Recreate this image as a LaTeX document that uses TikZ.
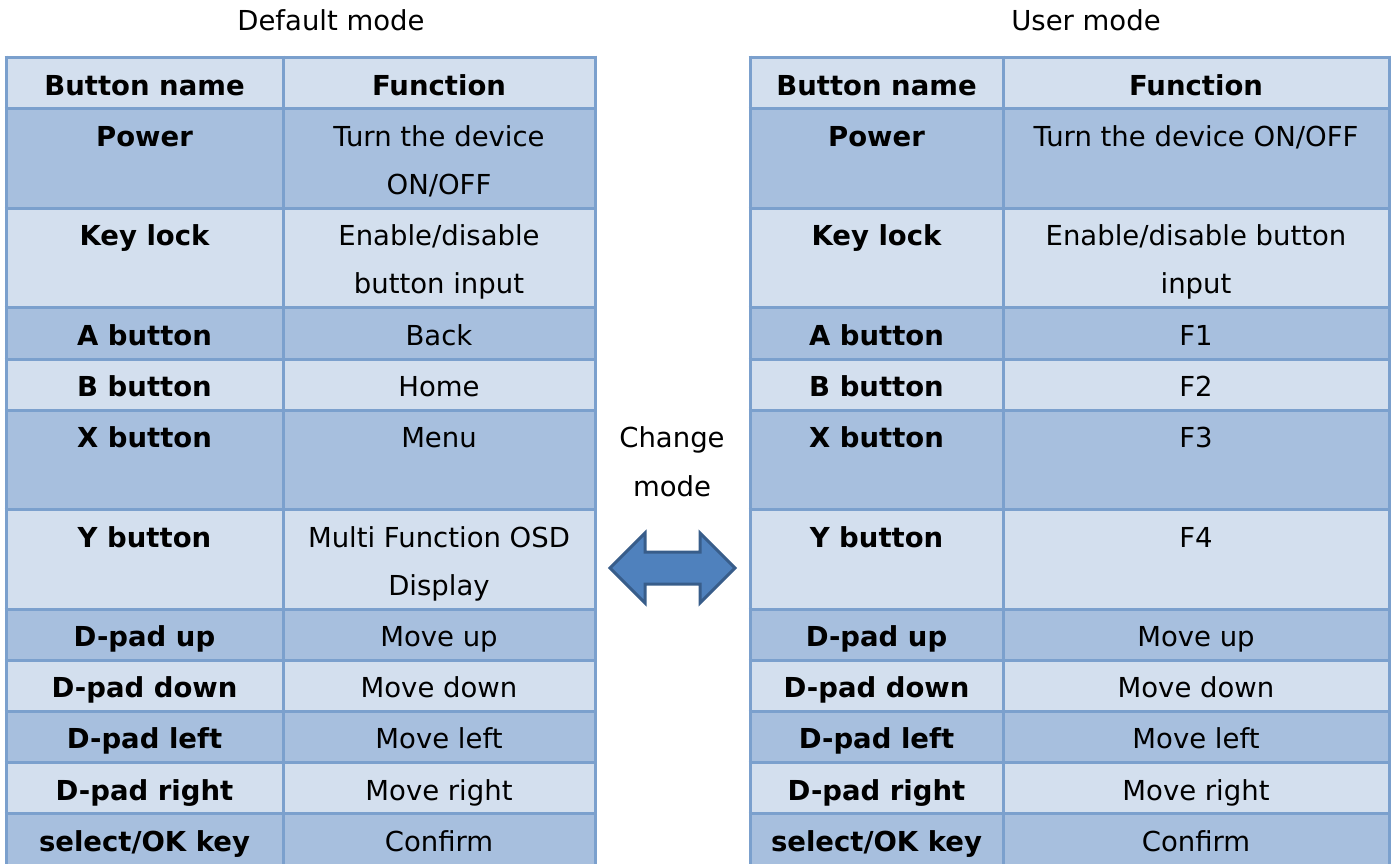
\documentclass[tikz,border=0pt]{standalone}
\usepackage{fontspec}
\setmainfont{DejaVu Sans}
\definecolor{gridline}{HTML}{7BA0CD}
\definecolor{rowlight}{HTML}{D3DFEE}
\definecolor{rowdark}{HTML}{A7BFDE}
\definecolor{arrowfill}{HTML}{4F81BD}
\definecolor{arrowedge}{HTML}{385D8A}
\tikzset{
  cell/.style={anchor=base, align=center, inner sep=0pt,
    font=\fontsize{27.5}{48.3}\selectfont},
  namecell/.style={cell, font=\fontsize{27.5}{48.3}\selectfont\bfseries},
  title/.style={anchor=base, inner sep=0pt, font=\fontsize{27.5}{49.5}\selectfont, align=center},
  rule/.style={draw=gridline, line width=3pt},
  swaparrow/.style={fill=arrowfill, draw=arrowedge, line width=3pt, line join=miter},
}
\begin{document}
\begin{tikzpicture}[x=1pt, y=-1pt]
\useasboundingbox (0,0) rectangle (1395,863);
\clip (0,0) rectangle (1395,863);

% row fills and horizontal rules of both tables
\foreach \xl/\xr in {6/595, 750/1389} {
  \foreach \ya/\yb/\c in {57/108/rowlight, 108/208/rowdark, 208/307/rowlight,
      307/359/rowdark, 359/410/rowlight, 410/509/rowdark, 509/609/rowlight,
      609/660/rowdark, 660/711/rowlight, 711/762/rowdark, 762/813/rowlight,
      813/890/rowdark} {
    \fill[\c] (\xl,\ya) rectangle (\xr,\yb);
  }
  \foreach \ya in {57,108,208,307,359,410,509,609,660,711,762,813} {
    \draw[rule] (\xl-1.5,\ya) -- (\xr+1.5,\ya);
  }
}
% vertical rules
\foreach \x in {6,283,595,750,1003,1389} {
  \draw[rule] (\x,55.5) -- (\x,890);
}

% titles
\node[title] (tdef) at (331,30) {Default mode};
\node[title] (tusr) at (1086,30) {User mode};

% default mode table (two-line cells are anchored at their last baseline)
\node[namecell] (dh1) at (144.5,95.5) {Button name};
\node[namecell] (dh2) at (439,95.5) {Function};
\node[namecell] (dn1) at (144.5,146.5) {Power};
\node[cell] (df1) at (439,194.8) {Turn the device\\ON/OFF};
\node[namecell] (dn2) at (144.5,245.5) {Key lock};
\node[cell] (df2) at (439,293.8) {Enable/disable\\button input};
\node[namecell] (dn3) at (144.5,345) {A button};
\node[cell] (df3) at (439,345) {Back};
\node[namecell] (dn4) at (144.5,396) {B button};
\node[cell] (df4) at (439,396) {Home};
\node[namecell] (dn5) at (144.5,447) {X button};
\node[cell] (df5) at (439,447) {Menu};
\node[namecell] (dn6) at (144.5,547) {Y button};
\node[cell] (df6) at (439,595.3) {Multi Function OSD\\Display};
\node[namecell] (dn7) at (144.5,646.5) {D-pad up};
\node[cell] (df7) at (439,646.5) {Move up};
\node[namecell] (dn8) at (144.5,697.5) {D-pad down};
\node[cell] (df8) at (439,697.5) {Move down};
\node[namecell] (dn9) at (144.5,748.5) {D-pad left};
\node[cell] (df9) at (439,748.5) {Move left};
\node[namecell] (dn10) at (144.5,800) {D-pad right};
\node[cell] (df10) at (439,800) {Move right};
\node[namecell] (dn11) at (144.5,851) {select/OK key};
\node[cell] (df11) at (439,851) {Confirm};

% user mode table
\node[namecell] (uh1) at (876.5,95.5) {Button name};
\node[namecell] (uh2) at (1196,95.5) {Function};
\node[namecell] (un1) at (876.5,146.5) {Power};
\node[cell] (uf1) at (1196,146.5) {Turn the device ON/OFF};
\node[namecell] (un2) at (876.5,245.5) {Key lock};
\node[cell] (uf2) at (1196,293.8) {Enable/disable button\\input};
\node[namecell] (un3) at (876.5,345) {A button};
\node[cell] (uf3) at (1196,345) {F1};
\node[namecell] (un4) at (876.5,396) {B button};
\node[cell] (uf4) at (1196,396) {F2};
\node[namecell] (un5) at (876.5,447) {X button};
\node[cell] (uf5) at (1196,447) {F3};
\node[namecell] (un6) at (876.5,547) {Y button};
\node[cell] (uf6) at (1196,547) {F4};
\node[namecell] (un7) at (876.5,646.5) {D-pad up};
\node[cell] (uf7) at (1196,646.5) {Move up};
\node[namecell] (un8) at (876.5,697.5) {D-pad down};
\node[cell] (uf8) at (1196,697.5) {Move down};
\node[namecell] (un9) at (876.5,748.5) {D-pad left};
\node[cell] (uf9) at (1196,748.5) {Move left};
\node[namecell] (un10) at (876.5,800) {D-pad right};
\node[cell] (uf10) at (1196,800) {Move right};
\node[namecell] (un11) at (876.5,851) {select/OK key};
\node[cell] (uf11) at (1196,851) {Confirm};

% mode switch label and double-headed arrow
\node[title] (chg) at (672,496.5) {Change\\mode};
\draw[swaparrow] (610,568) -- (645,533) -- (645,552) -- (700,552) -- (700,533)
  -- (735,568) -- (700,603) -- (700,584) -- (645,584) -- (645,603) -- cycle;
\end{tikzpicture}
\end{document}
